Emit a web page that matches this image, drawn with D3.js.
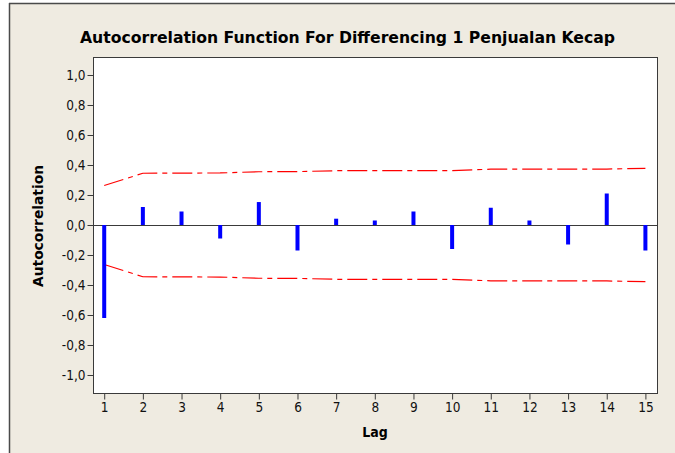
<!DOCTYPE html>
<html>
<head>
<meta charset="utf-8">
<script src="https://cdn.jsdelivr.net/npm/d3@7"></script>
<style>
  html, body { margin: 0; padding: 0; background: #ffffff; }
  svg { display: block; }
</style>
</head>
<body>
<svg id="chart" width="675" height="453"></svg>
<script>
// ---- Data ----
const lags = [1, 2, 3, 4, 5, 6, 7, 8, 9, 10, 11, 12, 13, 14, 15];
const acf = [-0.62, 0.12, 0.09, -0.09, 0.153, -0.17, 0.042, 0.03, 0.09, -0.16, 0.115, 0.03, -0.13, 0.21, -0.17];
const upperLimit = [0.263, 0.345, 0.346, 0.347, 0.355, 0.356, 0.362, 0.362, 0.363, 0.363, 0.372, 0.372, 0.373, 0.373, 0.378];
const lowerLimit = upperLimit.map(v => -v);
const yTicks = [-1.0, -0.8, -0.6, -0.4, -0.2, 0.0, 0.2, 0.4, 0.6, 0.8, 1.0];
const xTicks = lags;
const titleText = "Autocorrelation Function For Differencing 1 Penjualan Kecap";
const xLabel = "Lag";
const yLabel = "Autocorrelation";

// ---- Layout ----
const svg = d3.select("#chart");
const W = 675, H = 453;
const plot = { left: 93, right: 657, top: 57, bottom: 393 };

// frame background
svg.append("rect").attr("x", 9).attr("y", 3).attr("width", W - 9).attr("height", H - 3)
  .attr("fill", "#EFEBE1");
svg.append("line").attr("x1", 9.5).attr("x2", 9.5).attr("y1", 3).attr("y2", H)
  .attr("stroke", "#4a4a4a").attr("stroke-width", 1.5);
svg.append("line").attr("x1", 9).attr("x2", W).attr("y1", 3.5).attr("y2", 3.5)
  .attr("stroke", "#4a4a4a").attr("stroke-width", 1.5);

const x = d3.scaleLinear().domain([0.71, 15.3]).range([plot.left, plot.right]);
const y = d3.scaleLinear().domain([-1.12, 1.12]).range([plot.bottom, plot.top]);

// plot area
svg.append("rect")
  .attr("x", plot.left + 0.5).attr("y", plot.top + 0.5)
  .attr("width", plot.right - plot.left).attr("height", plot.bottom - plot.top)
  .attr("fill", "#ffffff").attr("stroke", "#3a3a3a").attr("stroke-width", 1);

const fmt = v => d3.format(".1f")(v).replace(".", ",").replace("−", "-");

// y axis
const yAxis = svg.append("g").attr("transform", `translate(${plot.left + 0.5},0)`)
  .call(d3.axisLeft(y).tickValues(yTicks).tickSize(6).tickSizeOuter(0).tickFormat(fmt));
yAxis.select(".domain").remove();
yAxis.selectAll(".tick line").attr("stroke", "#3a3a3a");
yAxis.selectAll(".tick text")
  .attr("font-family", "DejaVu Sans Condensed, DejaVu Sans, sans-serif")
  .attr("font-size", 13.5).attr("fill", "#111").attr("x", -8);

// x axis
const xAxis = svg.append("g").attr("transform", `translate(0,${plot.bottom + 0.5})`)
  .call(d3.axisBottom(x).tickValues(xTicks).tickSize(6).tickSizeOuter(0).tickFormat(d3.format("d")));
xAxis.select(".domain").remove();
xAxis.selectAll(".tick line").attr("stroke", "#3a3a3a");
xAxis.selectAll(".tick text")
  .attr("font-family", "DejaVu Sans Condensed, DejaVu Sans, sans-serif")
  .attr("font-size", 13.5).attr("fill", "#111").attr("y", 9);

// zero line
svg.append("line")
  .attr("x1", plot.left).attr("x2", plot.right)
  .attr("y1", y(0) + 0.5).attr("y2", y(0) + 0.5)
  .attr("stroke", "#3a3a3a").attr("stroke-width", 1.2);

// confidence limit lines
const lineGen = d3.line().x(d => x(d[0])).y(d => y(d[1]));
[upperLimit, lowerLimit].forEach(lim => {
  svg.append("path")
    .attr("d", lineGen(lags.map((l, i) => [l, lim[i]])))
    .attr("fill", "none").attr("stroke", "#FF0000").attr("stroke-width", 1.2)
    .attr("stroke-dasharray", "20,5,5,5");
});

// bars
svg.append("g").selectAll("rect").data(lags).join("rect")
  .attr("x", d => x(d) - 2)
  .attr("width", 4)
  .attr("y", (d, i) => y(Math.max(0, acf[i])))
  .attr("height", (d, i) => Math.abs(y(acf[i]) - y(0)))
  .attr("fill", "#0000FF");

// title
svg.append("text")
  .attr("x", 347.5).attr("y", 43)
  .attr("text-anchor", "middle")
  .attr("font-family", "DejaVu Sans Condensed, DejaVu Sans, sans-serif")
  .attr("font-weight", "bold").attr("font-size", 16)
  .attr("textLength", 535).attr("lengthAdjust", "spacingAndGlyphs")
  .attr("fill", "#000").text(titleText);

// axis labels
svg.append("text")
  .attr("x", (plot.left + plot.right) / 2).attr("y", 437)
  .attr("text-anchor", "middle")
  .attr("font-family", "DejaVu Sans Condensed, DejaVu Sans, sans-serif")
  .attr("font-weight", "bold").attr("font-size", 14)
  .attr("fill", "#000").text(xLabel);

svg.append("text")
  .attr("transform", `translate(43,${y(0) + 1}) rotate(-90)`)
  .attr("text-anchor", "middle")
  .attr("font-family", "DejaVu Sans Condensed, DejaVu Sans, sans-serif")
  .attr("font-weight", "bold").attr("font-size", 14)
  .attr("textLength", 122).attr("lengthAdjust", "spacingAndGlyphs")
  .attr("fill", "#000").text(yLabel);
</script>
</body>
</html>
